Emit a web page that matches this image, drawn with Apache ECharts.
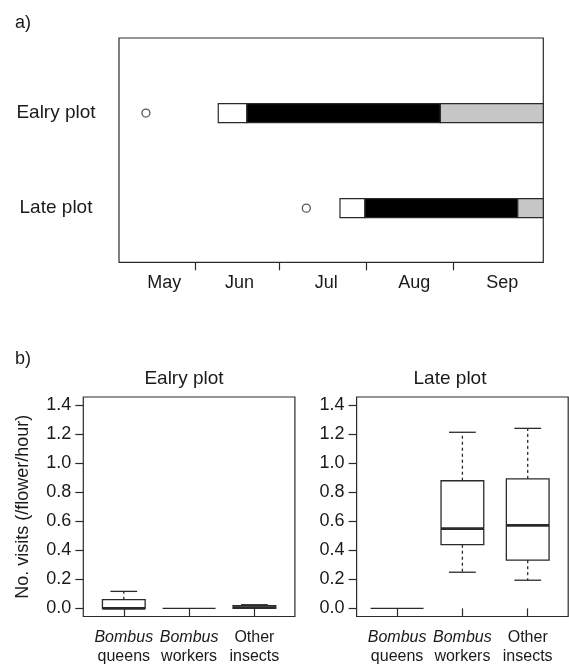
<!DOCTYPE html>
<html>
<head>
<meta charset="utf-8">
<script src="https://cdn.jsdelivr.net/npm/echarts@6/dist/echarts.min.js"></script>
<style>
html,body{margin:0;padding:0;background:#fff;}
#c{width:569px;height:665px;}
</style>
</head>
<body>
<div id="c"></div>
<script>
// ---- Panel a) data (day of year) ----
const rowNames = ['Ealry plot', 'Late plot'];
const rowPos = [2, 1];
const circleDay = [134.5, 191.7];
const barStartDay = [160.3, 203.7];
const whiteEndDay = [170.5, 212.6];
const blackEndDay = [239.5, 267.1];
const barEndDay = [276.2, 276.2];
const monthNames = ['May', 'Jun', 'Jul', 'Aug', 'Sep'];
const monthLabelDay = [141, 167.9, 198.8, 230.2, 261.6];
const monthBoundaryDay = [152, 182, 213, 244];

// ---- Panel b) data (visits / flower / hour) ----
const groupTop = ['Bombus', 'Bombus', 'Other'];
const groupBottom = ['queens', 'workers', 'insects'];
const groupTopItalic = [true, true, false];
const groupPos = [1, 2, 3];
const earlyMin = [0, 0, 0];
const earlyQ1 = [0, 0, 0];
const earlyMed = [0, 0, 0.005];
const earlyQ3 = [0.06, 0, 0.018];
const earlyMax = [0.117, 0, 0.025];
const lateMin = [0, 0.249, 0.194];
const lateQ1 = [0, 0.439, 0.332];
const lateMed = [0, 0.549, 0.572];
const lateQ3 = [0, 0.879, 0.892];
const lateMax = [0, 1.213, 1.240];
const yTicks = [0, 0.2, 0.4, 0.6, 0.8, 1.0, 1.2, 1.4];

const FONT = 'Liberation Sans, Arial, Helvetica, sans-serif';
const INK = '#1a1a1a';
const LINE = '#2a2a2a';

const chart = echarts.init(document.getElementById('c'), null, {renderer: 'canvas'});

const barData = rowPos.map((r, i) => [r, barStartDay[i], whiteEndDay[i], blackEndDay[i], barEndDay[i]]);
const circleData = rowPos.map((r, i) => [circleDay[i], r]);
const earlyData = groupPos.map((g, i) => [g, earlyMin[i], earlyQ1[i], earlyMed[i], earlyQ3[i], earlyMax[i]]);
const lateData = groupPos.map((g, i) => [g, lateMin[i], lateQ1[i], lateMed[i], lateQ3[i], lateMax[i]]);

function renderBar(params, api) {
  const r = api.value(0);
  const s = api.value(1), w = api.value(2), b = api.value(3), e = api.value(4);
  const half = 0.1;
  const segs = [[s, w, '#ffffff'], [w, b, '#000000'], [b, e, '#c6c6c6']];
  const children = segs.map(sg => {
    const p0 = api.coord([sg[0], r + half]);
    const p1 = api.coord([sg[1], r - half]);
    return {
      type: 'rect',
      shape: {x: p0[0], y: p0[1], width: p1[0] - p0[0], height: p1[1] - p0[1]},
      style: {fill: sg[2], stroke: LINE, lineWidth: 1.2}
    };
  });
  return {type: 'group', children: children};
}

function renderBox(params, api) {
  const x = api.value(0);
  const mn = api.value(1), q1 = api.value(2), md = api.value(3), q3 = api.value(4), mx = api.value(5);
  const c = (xv, yv) => api.coord([xv, yv]);
  const hb = 0.327, hs = 0.205, hf = 0.405;
  const children = [];
  const line = (a, b, lw, dash) => ({
    type: 'line',
    shape: {x1: a[0], y1: a[1], x2: b[0], y2: b[1]},
    style: {stroke: LINE, lineWidth: lw, lineDash: dash || null}
  });
  if (mx === mn) {
    children.push(line(c(x - hf, md), c(x + hf, md), 1.3));
    return {type: 'group', children: children};
  }
  const tl = c(x - hb, q3), br = c(x + hb, q1);
  children.push({
    type: 'rect',
    shape: {x: tl[0], y: tl[1], width: br[0] - tl[0], height: br[1] - tl[1]},
    style: {fill: '#fff', stroke: LINE, lineWidth: 1.3}
  });
  if (mx > q3) {
    children.push(line(c(x, q3), c(x, mx), 1.3, [3, 3]));
    children.push(line(c(x - hs, mx), c(x + hs, mx), 1.3));
  }
  if (mn < q1) {
    children.push(line(c(x, q1), c(x, mn), 1.3, [3, 3]));
    children.push(line(c(x - hs, mn), c(x + hs, mn), 1.3));
  }
  children.push(line(c(x - hb, md), c(x + hb, md), 2.6));
  return {type: 'group', children: children};
}

const tickStyle = {show: true, length: 8, inside: false, lineStyle: {color: LINE, width: 1.2}};

function groupXAxis(gi) {
  return {
    gridIndex: gi, type: 'value', min: 0.38, max: 3.62,
    axisLine: {show: false}, splitLine: {show: false},
    axisTick: Object.assign({customValues: groupPos}, tickStyle),
    axisLabel: {
      customValues: groupPos, margin: 12, interval: 0,
      formatter: v => {
        const i = groupPos.indexOf(Math.round(v));
        return '{' + (groupTopItalic[i] ? 'it' : 'n') + '|' + groupTop[i] + '}\n{n|' + groupBottom[i] + '}';
      },
      rich: {
        it: {fontFamily: FONT, fontSize: 16, fontStyle: 'italic', color: INK, lineHeight: 19},
        n: {fontFamily: FONT, fontSize: 16, color: INK, lineHeight: 19}
      }
    }
  };
}
function visitYAxis(gi, withName) {
  const ax = {
    gridIndex: gi, type: 'value', min: -0.056, max: 1.456,
    axisLine: {show: false}, splitLine: {show: false},
    axisTick: Object.assign({customValues: yTicks}, tickStyle),
    axisLabel: {
      customValues: yTicks, margin: 12,
      formatter: v => Number(v).toFixed(1),
      fontFamily: FONT, fontSize: 18, color: INK
    }
  };
  if (withName) {
    ax.name = 'No. visits (/flower/hour)';
    ax.nameLocation = 'middle';
    ax.nameGap = 51;
    ax.nameTextStyle = {fontFamily: FONT, fontSize: 18, color: INK};
  }
  return ax;
}

const gridBase = {show: true, borderColor: LINE, borderWidth: 1.2, backgroundColor: 'transparent', containLabel: false};

chart.setOption({
  animation: false,
  backgroundColor: '#fff',
  textStyle: {fontFamily: FONT},
  grid: [
    Object.assign({left: 119, top: 38, width: 424.3, height: 224.3}, gridBase),
    Object.assign({left: 83.3, top: 397, width: 211.6, height: 219.5}, gridBase),
    Object.assign({left: 356.6, top: 397, width: 211.6, height: 219.5}, gridBase)
  ],
  xAxis: [
    {
      gridIndex: 0, type: 'value', min: 124.9, max: 276.2,
      axisLine: {show: false}, splitLine: {show: false},
      axisTick: Object.assign({customValues: monthBoundaryDay}, tickStyle),
      axisLabel: {
        customValues: monthLabelDay, margin: 12,
        formatter: v => {
          let best = 0;
          monthLabelDay.forEach((d, i) => { if (Math.abs(d - v) < Math.abs(monthLabelDay[best] - v)) best = i; });
          return monthNames[best];
        },
        fontFamily: FONT, fontSize: 18, color: INK
      }
    },
    groupXAxis(1),
    groupXAxis(2)
  ],
  yAxis: [
    {
      gridIndex: 0, type: 'value', min: 0.43, max: 2.79,
      axisLine: {show: false}, splitLine: {show: false}, axisTick: {show: false},
      axisLabel: {
        customValues: rowPos, margin: 63, align: 'center',
        formatter: v => rowNames[rowPos.indexOf(Math.round(v))],
        fontFamily: FONT, fontSize: 19, color: INK
      }
    },
    visitYAxis(1, true),
    visitYAxis(2, false)
  ],
  graphic: [
    {type: 'text', left: 15, top: 14, style: {text: 'a)', fontFamily: FONT, fontSize: 18, fill: INK}},
    {type: 'text', left: 15, top: 350, style: {text: 'b)', fontFamily: FONT, fontSize: 18, fill: INK}},
    {type: 'text', x: 184, y: 369, style: {text: 'Ealry plot', fontFamily: FONT, fontSize: 19, fill: INK, textAlign: 'center', textVerticalAlign: 'top'}},
    {type: 'text', x: 450, y: 369, style: {text: 'Late plot', fontFamily: FONT, fontSize: 19, fill: INK, textAlign: 'center', textVerticalAlign: 'top'}}
  ],
  series: [
    {type: 'custom', xAxisIndex: 0, yAxisIndex: 0, renderItem: renderBar, data: barData, encode: {x: [1, 2, 3, 4], y: 0}, clip: false},
    {type: 'scatter', xAxisIndex: 0, yAxisIndex: 0, data: circleData, symbol: 'circle', symbolSize: 8,
     itemStyle: {color: '#fff', borderColor: LINE, borderWidth: 1.3}},
    {type: 'custom', xAxisIndex: 1, yAxisIndex: 1, renderItem: renderBox, data: earlyData, encode: {x: 0, y: [1, 2, 3, 4, 5]}},
    {type: 'custom', xAxisIndex: 2, yAxisIndex: 2, renderItem: renderBox, data: lateData, encode: {x: 0, y: [1, 2, 3, 4, 5]}}
  ]
});
</script>
</body>
</html>
